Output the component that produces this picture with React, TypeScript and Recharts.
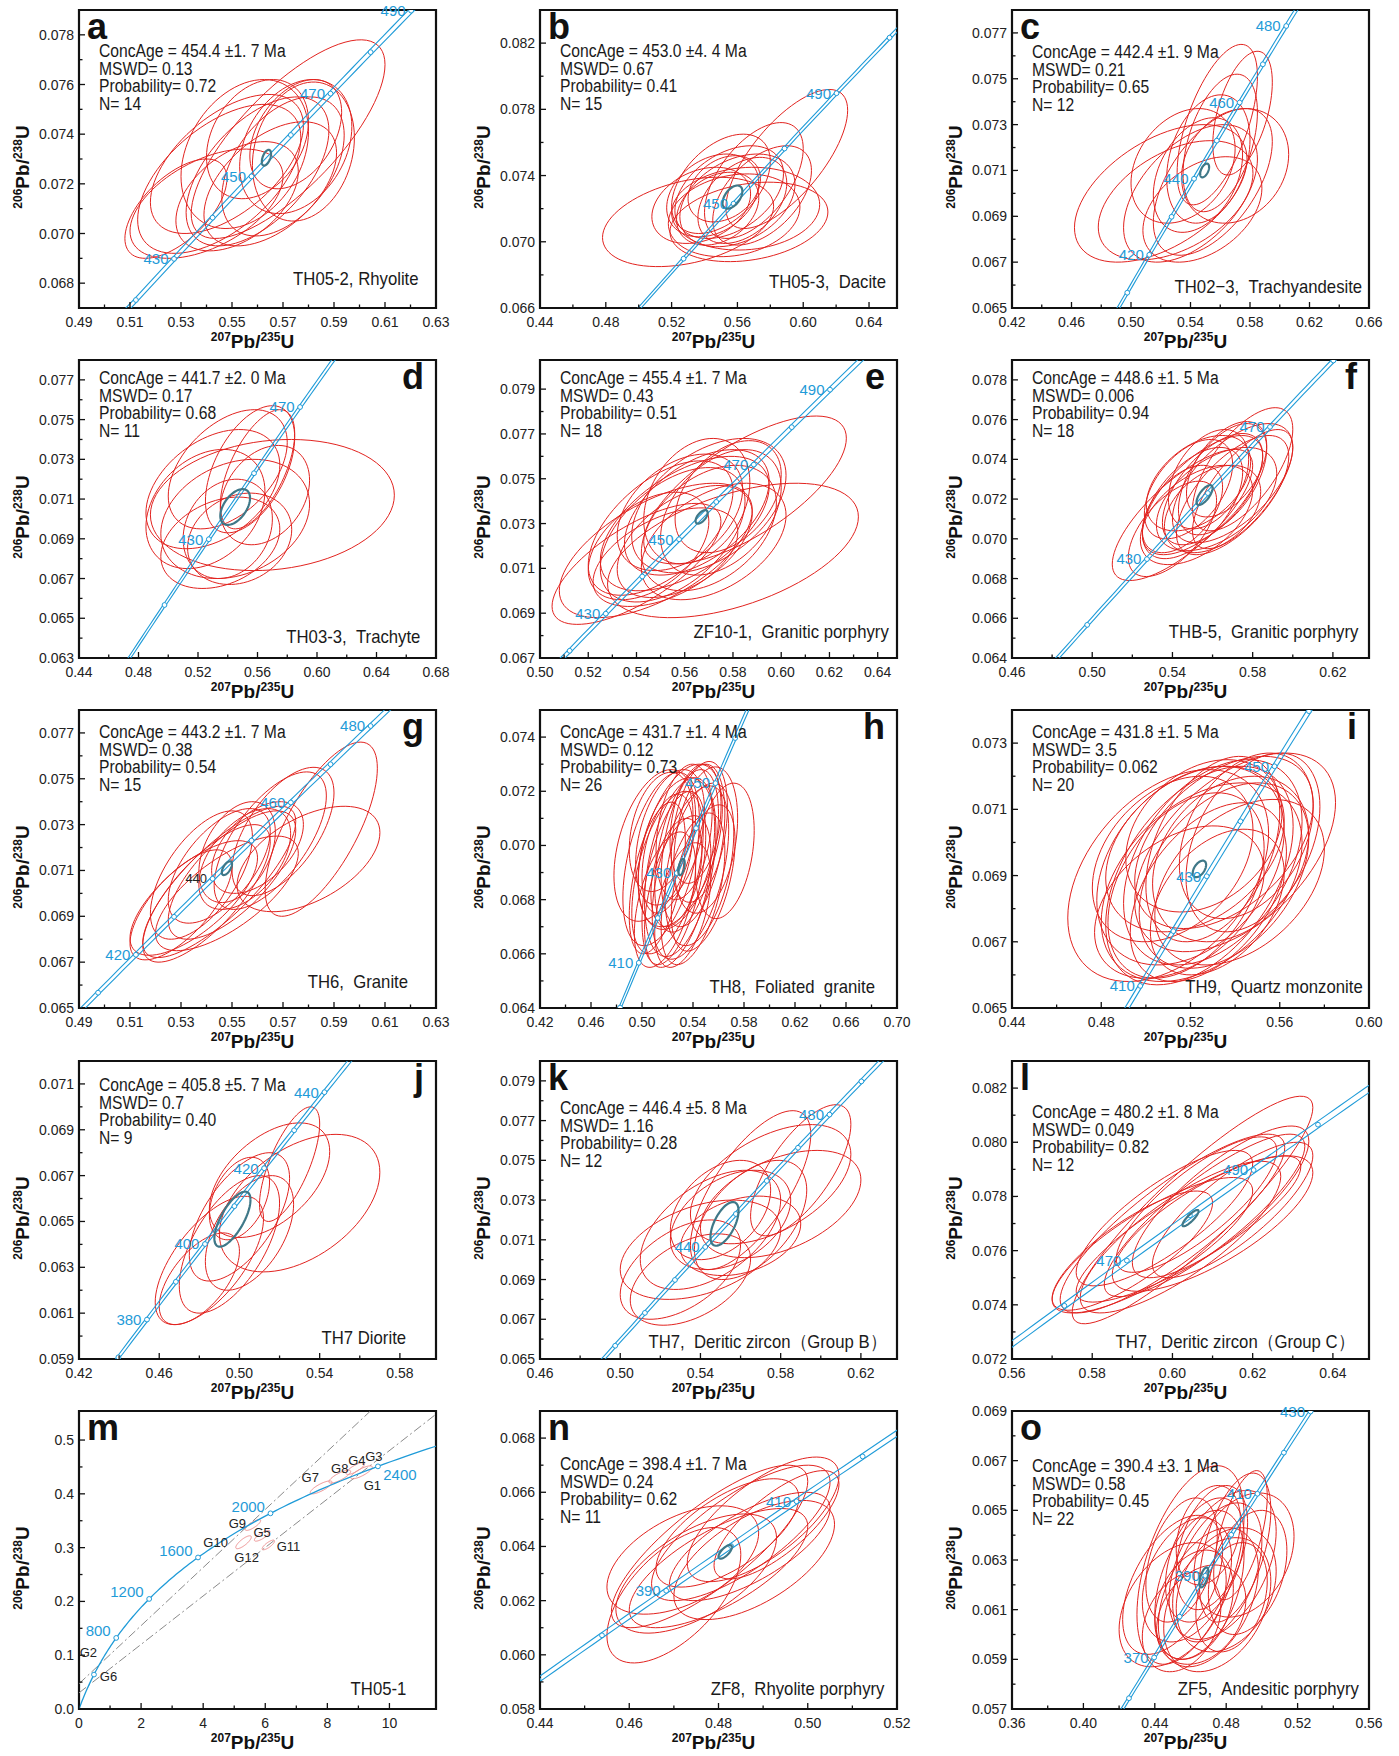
import React from "react";
import { ScatterChart, Scatter, XAxis, YAxis, ReferenceArea, LabelList } from "recharts";

/* ---- constants ---- */
type Ell = [number, number, number, number, number]; // cx, cy, half-width x, half-height y, rho

const L235 = 9.8485e-10;
const L238 = 1.55125e-10;
const RED = "#e2231f";
const PINK = "#ee9090";
const BLUE = "#1f9bd8";
const MEAN = "#3f7888";
const SANS = '"Liberation Sans", Arial, sans-serif';

const COL_X = [79, 540, 1012];
const ROW_Y = [10, 360, 710, 1061, 1411];
const FW = 357;
const FH = 298;

/* ---- panel a ---- */
const xTicksA = [0.49, 0.51, 0.53, 0.55, 0.57, 0.59, 0.61, 0.63];
const yTicksA = [0.068, 0.07, 0.072, 0.074, 0.076, 0.078];
const ellA: Ell[] = [
  [0.572, 0.0738, 0.038, 0.004, 0.75], [0.545, 0.0722, 0.032, 0.003, 0.55],
  [0.54, 0.0712, 0.03, 0.0022, 0.5], [0.528, 0.071, 0.02, 0.002, 0.6],
  [0.575, 0.0735, 0.022, 0.0027, 0.3], [0.578, 0.0733, 0.02, 0.0028, 0.2],
  [0.57, 0.0727, 0.024, 0.0028, 0.45], [0.56, 0.0725, 0.028, 0.003, 0.55],
  [0.555, 0.0732, 0.025, 0.003, 0.3], [0.565, 0.072, 0.026, 0.0025, 0.5],
  [0.552, 0.0715, 0.024, 0.0022, 0.45], [0.575, 0.074, 0.018, 0.0022, 0.4],
  [0.548, 0.0728, 0.03, 0.0028, 0.55], [0.56, 0.0738, 0.02, 0.0024, 0.3],
];
const meanA: Ell = [0.5635, 0.07305, 0.0018, 0.00032, 0.5];
const statsA = ["ConcAge = 454.4 ±1. 7 Ma", "MSWD= 0.13", "Probability= 0.72", "N= 14"];

/* ---- panel b ---- */
const xTicksB = [0.44, 0.48, 0.52, 0.56, 0.6, 0.64];
const yTicksB = [0.066, 0.07, 0.074, 0.078, 0.082];
const ellB: Ell[] = [
  [0.53, 0.0712, 0.052, 0.0027, 0.35], [0.59, 0.075, 0.037, 0.0042, 0.7],
  [0.567, 0.0712, 0.048, 0.0024, 0.25], [0.565, 0.072, 0.045, 0.0025, 0.1],
  [0.555, 0.073, 0.033, 0.0028, 0.4], [0.55, 0.0735, 0.03, 0.003, 0.45],
  [0.545, 0.0728, 0.028, 0.0025, 0.3], [0.56, 0.0725, 0.035, 0.0028, 0.35],
  [0.57, 0.0737, 0.03, 0.0035, 0.55], [0.548, 0.072, 0.025, 0.0022, 0.3],
  [0.538, 0.0722, 0.03, 0.0023, 0.3], [0.558, 0.0716, 0.04, 0.0025, 0.2],
  [0.575, 0.0728, 0.03, 0.003, 0.5], [0.552, 0.0732, 0.022, 0.002, 0.3],
  [0.563, 0.0725, 0.027, 0.0026, 0.4],
];
const meanB: Ell = [0.557, 0.0727, 0.006, 0.0007, 0.5];
const statsB = ["ConcAge = 453.0 ±4. 4 Ma", "MSWD= 0.67", "Probability= 0.41", "N= 15"];

/* ---- panel c ---- */
const xTicksC = [0.42, 0.46, 0.5, 0.54, 0.58, 0.62, 0.66];
const yTicksC = [0.065, 0.067, 0.069, 0.071, 0.073, 0.075, 0.077];
const ellC: Ell[] = [
  [0.52, 0.07, 0.058, 0.003, 0.5], [0.53, 0.0697, 0.052, 0.0026, 0.45],
  [0.54, 0.07, 0.045, 0.003, 0.5], [0.555, 0.0705, 0.04, 0.0032, 0.55],
  [0.57, 0.0712, 0.036, 0.0025, 0.2], [0.558, 0.073, 0.027, 0.0035, 0.6],
  [0.575, 0.0735, 0.02, 0.0027, 0.5], [0.56, 0.0722, 0.025, 0.003, 0.45],
  [0.552, 0.0715, 0.028, 0.0028, 0.3], [0.545, 0.0708, 0.03, 0.0025, 0.35],
  [0.548, 0.0693, 0.04, 0.0023, 0.4], [0.535, 0.0712, 0.035, 0.0025, 0.3],
];
const meanC: Ell = [0.5495, 0.071, 0.003, 0.0003, 0.5];
const statsC = ["ConcAge = 442.4 ±1. 9 Ma", "MSWD= 0.21", "Probability= 0.65", "N= 12"];

/* ---- panel d ---- */
const xTicksD = [0.44, 0.48, 0.52, 0.56, 0.6, 0.64, 0.68];
const yTicksD = [0.063, 0.065, 0.067, 0.069, 0.071, 0.073, 0.075, 0.077];
const ellD: Ell[] = [
  [0.57, 0.0707, 0.082, 0.0033, 0.15], [0.54, 0.0725, 0.04, 0.003, 0.45],
  [0.53, 0.0715, 0.045, 0.003, 0.4], [0.525, 0.0705, 0.04, 0.003, 0.3],
  [0.56, 0.0725, 0.025, 0.003, 0.6], [0.555, 0.0725, 0.03, 0.0032, 0.5],
  [0.545, 0.07, 0.05, 0.003, 0.25], [0.535, 0.0688, 0.04, 0.0023, 0.3],
  [0.548, 0.069, 0.035, 0.0023, 0.2], [0.54, 0.0695, 0.03, 0.0025, 0.2],
  [0.565, 0.0712, 0.03, 0.0025, 0.3],
];
const meanD: Ell = [0.545, 0.0706, 0.01, 0.0009, 0.5];
const statsD = ["ConcAge = 441.7 ±2. 0 Ma", "MSWD= 0.17", "Probability= 0.68", "N= 11"];

/* ---- panel e ---- */
const xTicksE = [0.5, 0.52, 0.54, 0.56, 0.58, 0.6, 0.62, 0.64];
const yTicksE = [0.067, 0.069, 0.071, 0.073, 0.075, 0.077, 0.079];
const ellE: Ell[] = [
  [0.585, 0.0745, 0.042, 0.0033, 0.7], [0.58, 0.0718, 0.052, 0.003, 0.5],
  [0.54, 0.0712, 0.035, 0.0027, 0.7], [0.548, 0.0718, 0.04, 0.003, 0.6],
  [0.56, 0.073, 0.035, 0.003, 0.55], [0.565, 0.0735, 0.03, 0.0028, 0.5],
  [0.57, 0.0738, 0.032, 0.003, 0.45], [0.555, 0.0725, 0.03, 0.003, 0.5],
  [0.575, 0.0735, 0.025, 0.0028, 0.4], [0.56, 0.0722, 0.028, 0.0025, 0.5],
  [0.55, 0.0728, 0.03, 0.003, 0.55], [0.57, 0.0728, 0.028, 0.0028, 0.4],
  [0.578, 0.0742, 0.022, 0.0025, 0.4], [0.545, 0.072, 0.025, 0.0024, 0.45],
  [0.565, 0.074, 0.022, 0.0028, 0.3], [0.552, 0.0715, 0.03, 0.0022, 0.5],
  [0.572, 0.0722, 0.03, 0.0026, 0.45], [0.558, 0.0735, 0.026, 0.0026, 0.4],
];
const meanE: Ell = [0.567, 0.0733, 0.0025, 0.0003, 0.6];
const statsE = ["ConcAge = 455.4 ±1. 7 Ma", "MSWD= 0.43", "Probability= 0.51", "N= 18"];

/* ---- panel f ---- */
const xTicksF = [0.46, 0.5, 0.54, 0.58, 0.62];
const yTicksF = [0.064, 0.066, 0.068, 0.07, 0.072, 0.074, 0.076, 0.078];
const ellF: Ell[] = [
  [0.545, 0.0712, 0.035, 0.0033, 0.75], [0.575, 0.0735, 0.025, 0.0031, 0.65],
  [0.57, 0.0728, 0.03, 0.003, 0.6], [0.555, 0.0722, 0.03, 0.003, 0.65],
  [0.56, 0.0725, 0.025, 0.0028, 0.6], [0.55, 0.0718, 0.025, 0.0028, 0.55],
  [0.565, 0.073, 0.022, 0.0028, 0.55], [0.552, 0.0712, 0.028, 0.0025, 0.5],
  [0.562, 0.072, 0.03, 0.0026, 0.5], [0.548, 0.0725, 0.022, 0.0025, 0.5],
  [0.57, 0.0722, 0.028, 0.003, 0.65], [0.558, 0.073, 0.02, 0.0025, 0.4],
  [0.545, 0.0715, 0.02, 0.0022, 0.5], [0.575, 0.0725, 0.025, 0.003, 0.7],
  [0.56, 0.0715, 0.024, 0.0022, 0.4], [0.553, 0.0728, 0.026, 0.0024, 0.45],
  [0.567, 0.0735, 0.02, 0.0024, 0.5], [0.54, 0.0705, 0.022, 0.0024, 0.6],
];
const meanF: Ell = [0.556, 0.0722, 0.004, 0.0005, 0.7];
const statsF = ["ConcAge = 448.6 ±1. 5 Ma", "MSWD= 0.006", "Probability= 0.94", "N= 18"];

/* ---- panel g ---- */
const xTicksG = [0.49, 0.51, 0.53, 0.55, 0.57, 0.59, 0.61, 0.63];
const yTicksG = [0.065, 0.067, 0.069, 0.071, 0.073, 0.075, 0.077];
const ellG: Ell[] = [
  [0.585, 0.0728, 0.022, 0.0038, 0.7], [0.58, 0.0715, 0.028, 0.0023, 0.5],
  [0.565, 0.0723, 0.022, 0.003, 0.65], [0.57, 0.0727, 0.02, 0.0028, 0.6],
  [0.545, 0.0705, 0.03, 0.0033, 0.8], [0.54, 0.07, 0.025, 0.003, 0.75],
  [0.535, 0.0698, 0.025, 0.0025, 0.7], [0.545, 0.0712, 0.02, 0.0025, 0.6],
  [0.55, 0.0708, 0.025, 0.0028, 0.7], [0.53, 0.0695, 0.02, 0.0024, 0.7],
  [0.555, 0.0715, 0.018, 0.0022, 0.5], [0.548, 0.07, 0.028, 0.0025, 0.7],
  [0.56, 0.072, 0.018, 0.002, 0.5], [0.538, 0.0708, 0.02, 0.0028, 0.6],
  [0.552, 0.0718, 0.015, 0.0022, 0.4],
];
const meanG: Ell = [0.548, 0.0711, 0.002, 0.0003, 0.6];
const statsG = ["ConcAge = 443.2 ±1. 7 Ma", "MSWD= 0.38", "Probability= 0.54", "N= 15"];

/* ---- panel h ---- */
const xTicksH = [0.42, 0.46, 0.5, 0.54, 0.58, 0.62, 0.66, 0.7];
const yTicksH = [0.064, 0.066, 0.068, 0.07, 0.072, 0.074];
const ellH: Ell[] = [
  [0.51, 0.07, 0.032, 0.0028, 0.4], [0.515, 0.0695, 0.03, 0.0032, 0.45],
  [0.52, 0.069, 0.028, 0.003, 0.5], [0.525, 0.0688, 0.025, 0.0032, 0.5],
  [0.53, 0.0692, 0.028, 0.0033, 0.4], [0.535, 0.0698, 0.025, 0.003, 0.45],
  [0.54, 0.07, 0.025, 0.003, 0.4], [0.55, 0.0702, 0.025, 0.0027, 0.3],
  [0.565, 0.0698, 0.023, 0.0025, 0.3], [0.545, 0.0705, 0.022, 0.0026, 0.35],
  [0.528, 0.0683, 0.026, 0.0028, 0.5], [0.532, 0.0678, 0.022, 0.0023, 0.45],
  [0.518, 0.068, 0.024, 0.0025, 0.5], [0.522, 0.0703, 0.027, 0.0025, 0.4],
  [0.538, 0.069, 0.03, 0.0032, 0.5], [0.545, 0.0693, 0.027, 0.003, 0.4],
  [0.512, 0.0688, 0.022, 0.0028, 0.5], [0.527, 0.0697, 0.03, 0.0028, 0.35],
  [0.533, 0.0705, 0.022, 0.0025, 0.3], [0.54, 0.0684, 0.025, 0.0028, 0.5],
  [0.52, 0.0697, 0.02, 0.0022, 0.4], [0.548, 0.0688, 0.025, 0.0027, 0.5],
  [0.53, 0.07, 0.033, 0.003, 0.45], [0.515, 0.0705, 0.025, 0.0022, 0.3],
  [0.542, 0.0708, 0.02, 0.0022, 0.3], [0.527, 0.069, 0.02, 0.002, 0.4],
];
const meanH: Ell = [0.531, 0.0692, 0.0025, 0.0003, 0.5];
const statsH = ["ConcAge = 431.7 ±1. 4 Ma", "MSWD= 0.12", "Probability= 0.73", "N= 26"];

/* ---- panel i ---- */
const xTicksI = [0.44, 0.48, 0.52, 0.56, 0.6];
const yTicksI = [0.065, 0.067, 0.069, 0.071, 0.073];
const ellI: Ell[] = [
  [0.51, 0.069, 0.045, 0.0032, 0.4], [0.525, 0.0688, 0.045, 0.003, 0.4],
  [0.535, 0.07, 0.04, 0.0026, 0.45], [0.54, 0.0697, 0.045, 0.003, 0.5],
  [0.52, 0.0693, 0.042, 0.003, 0.35], [0.53, 0.0694, 0.04, 0.0031, 0.4],
  [0.528, 0.0685, 0.035, 0.0027, 0.45], [0.515, 0.0682, 0.038, 0.0023, 0.4],
  [0.545, 0.0702, 0.03, 0.0025, 0.35], [0.535, 0.069, 0.038, 0.0028, 0.4],
  [0.522, 0.0698, 0.04, 0.0025, 0.35], [0.538, 0.0695, 0.035, 0.0025, 0.3],
  [0.518, 0.0687, 0.035, 0.0028, 0.4], [0.542, 0.0688, 0.038, 0.0025, 0.4],
  [0.526, 0.0702, 0.035, 0.0023, 0.3], [0.532, 0.0682, 0.03, 0.0022, 0.4],
  [0.548, 0.07, 0.03, 0.0027, 0.4], [0.512, 0.0695, 0.036, 0.0025, 0.35],
  [0.53, 0.0698, 0.03, 0.0028, 0.4], [0.524, 0.069, 0.042, 0.0033, 0.45],
];
const meanI: Ell = [0.524, 0.0692, 0.003, 0.00025, 0.5];
const statsI = ["ConcAge = 431.8 ±1. 5 Ma", "MSWD= 3.5", "Probability= 0.062", "N= 20"];

/* ---- panel j ---- */
const xTicksJ = [0.42, 0.46, 0.5, 0.54, 0.58];
const yTicksJ = [0.059, 0.061, 0.063, 0.065, 0.067, 0.069, 0.071];
const ellJ: Ell[] = [
  [0.53, 0.0658, 0.04, 0.003, 0.45], [0.515, 0.0668, 0.03, 0.0025, 0.5],
  [0.525, 0.0675, 0.015, 0.0025, 0.7], [0.5, 0.0652, 0.025, 0.0028, 0.6],
  [0.495, 0.064, 0.025, 0.003, 0.6], [0.485, 0.0633, 0.027, 0.0028, 0.65],
  [0.48, 0.0625, 0.02, 0.002, 0.6], [0.5, 0.066, 0.015, 0.0018, 0.4],
  [0.505, 0.0645, 0.022, 0.0025, 0.5],
];
const meanJ: Ell = [0.4965, 0.0651, 0.009, 0.0012, 0.7];
const statsJ = ["ConcAge = 405.8 ±5. 7 Ma", "MSWD= 0.7", "Probability= 0.40", "N= 9"];

/* ---- panel k ---- */
const xTicksK = [0.46, 0.5, 0.54, 0.58, 0.62];
const yTicksK = [0.065, 0.067, 0.069, 0.071, 0.073, 0.075, 0.077, 0.079];
const ellK: Ell[] = [
  [0.575, 0.0738, 0.04, 0.003, 0.5], [0.59, 0.0745, 0.025, 0.0033, 0.7],
  [0.58, 0.0728, 0.04, 0.0027, 0.45], [0.565, 0.0735, 0.03, 0.004, 0.7],
  [0.545, 0.0715, 0.035, 0.003, 0.5], [0.54, 0.0705, 0.04, 0.0025, 0.4],
  [0.53, 0.0695, 0.03, 0.0025, 0.5], [0.535, 0.069, 0.03, 0.0023, 0.45],
  [0.555, 0.072, 0.03, 0.0025, 0.4], [0.56, 0.0712, 0.03, 0.002, 0.3],
  [0.55, 0.0725, 0.025, 0.0025, 0.4], [0.565, 0.072, 0.028, 0.003, 0.5],
];
const meanK: Ell = [0.552, 0.0718, 0.007, 0.0011, 0.6];
const statsK = ["ConcAge = 446.4 ±5. 8 Ma", "MSWD= 1.16", "Probability= 0.28", "N= 12"];

/* ---- panel l ---- */
const xTicksL = [0.56, 0.58, 0.6, 0.62, 0.64];
const yTicksL = [0.072, 0.074, 0.076, 0.078, 0.08, 0.082];
const ellL: Ell[] = [
  [0.605, 0.0775, 0.03, 0.0042, 0.9], [0.6, 0.077, 0.028, 0.0033, 0.85],
  [0.608, 0.0773, 0.025, 0.003, 0.85], [0.612, 0.0778, 0.022, 0.0028, 0.8],
  [0.602, 0.0765, 0.025, 0.0028, 0.8], [0.595, 0.0762, 0.025, 0.0025, 0.8],
  [0.61, 0.077, 0.025, 0.0025, 0.75], [0.606, 0.0777, 0.02, 0.0025, 0.8],
  [0.598, 0.0772, 0.022, 0.0025, 0.8], [0.615, 0.0775, 0.02, 0.0025, 0.8],
  [0.59, 0.076, 0.02, 0.0022, 0.8], [0.604, 0.0768, 0.028, 0.0027, 0.85],
];
const meanL: Ell = [0.6045, 0.0772, 0.002, 0.0003, 0.85];
const statsL = ["ConcAge = 480.2 ±1. 8 Ma", "MSWD= 0.049", "Probability= 0.82", "N= 12"];

/* ---- panel m ---- */
const xTicksM = [0, 2, 4, 6, 8, 10];
const yTicksM = [0, 0.1, 0.2, 0.3, 0.4, 0.5];
const ellM: Ell[] = [
  [9.1, 0.44, 0.35, 0.012, 0.8], [8.9, 0.447, 0.3, 0.011, 0.8],
  [8.4, 0.432, 0.35, 0.012, 0.8], [7.8, 0.412, 0.35, 0.012, 0.8],
  [5.6, 0.342, 0.25, 0.01, 0.8], [5.9, 0.322, 0.25, 0.01, 0.8],
  [5.3, 0.31, 0.25, 0.012, 0.8], [6.1, 0.305, 0.2, 0.009, 0.8],
];
const gNames = ["G1", "G3", "G4", "G8", "G7", "G9", "G5", "G10", "G11", "G12", "G2", "G6"];
const gLabelX = [9.45, 9.5, 8.95, 8.4, 7.45, 5.1, 5.9, 4.4, 6.75, 5.4, 0.3, 0.95];
const gLabelY = [0.415, 0.47, 0.462, 0.448, 0.43, 0.345, 0.328, 0.31, 0.302, 0.282, 0.105, 0.06];
const discordiaX = [[0, 9.37], [0, 11.5]];
const discordiaY = [[0.047, 0.553], [0.03, 0.548]];

/* ---- panel n ---- */
const xTicksN = [0.44, 0.46, 0.48, 0.5, 0.52];
const yTicksN = [0.058, 0.06, 0.062, 0.064, 0.066, 0.068];
const ellN: Ell[] = [
  [0.47, 0.0622, 0.015, 0.0025, 0.6], [0.478, 0.064, 0.022, 0.003, 0.8],
  [0.485, 0.0645, 0.02, 0.0025, 0.75], [0.49, 0.065, 0.017, 0.0023, 0.7],
  [0.493, 0.0648, 0.014, 0.002, 0.75], [0.48, 0.0632, 0.02, 0.0022, 0.7],
  [0.475, 0.063, 0.018, 0.0022, 0.6], [0.487, 0.064, 0.018, 0.002, 0.7],
  [0.482, 0.0645, 0.016, 0.002, 0.65], [0.472, 0.0635, 0.017, 0.002, 0.5],
  [0.488, 0.0635, 0.018, 0.0022, 0.6],
];
const meanN: Ell = [0.4815, 0.0638, 0.0015, 0.00025, 0.7];
const statsN = ["ConcAge = 398.4 ±1. 7 Ma", "MSWD= 0.24", "Probability= 0.62", "N= 11"];

/* ---- panel o ---- */
const xTicksO = [0.36, 0.4, 0.44, 0.48, 0.52, 0.56];
const yTicksO = [0.057, 0.059, 0.061, 0.063, 0.065, 0.067, 0.069];
const ellO: Ell[] = [
  [0.46, 0.0628, 0.03, 0.004, 0.5], [0.49, 0.0632, 0.028, 0.0025, 0.3],
  [0.485, 0.0635, 0.02, 0.003, 0.5], [0.488, 0.064, 0.015, 0.0026, 0.6],
  [0.45, 0.0612, 0.03, 0.0025, 0.4], [0.455, 0.0605, 0.022, 0.002, 0.3],
  [0.47, 0.0615, 0.028, 0.0028, 0.4], [0.465, 0.062, 0.025, 0.003, 0.4],
  [0.475, 0.0625, 0.025, 0.0028, 0.45], [0.468, 0.063, 0.022, 0.0025, 0.4],
  [0.48, 0.0618, 0.028, 0.0025, 0.3], [0.458, 0.0622, 0.025, 0.0025, 0.35],
  [0.472, 0.0635, 0.02, 0.0025, 0.4], [0.462, 0.0612, 0.022, 0.0022, 0.3],
  [0.478, 0.0628, 0.03, 0.003, 0.45], [0.47, 0.064, 0.018, 0.002, 0.3],
  [0.455, 0.063, 0.02, 0.0025, 0.4], [0.483, 0.0615, 0.02, 0.0022, 0.3],
  [0.466, 0.0608, 0.025, 0.002, 0.3], [0.475, 0.0612, 0.03, 0.0027, 0.35],
  [0.45, 0.062, 0.028, 0.0028, 0.5], [0.492, 0.0625, 0.022, 0.0025, 0.35],
];
const meanO: Ell = [0.4675, 0.0623, 0.0025, 0.0004, 0.6];
const statsO = ["ConcAge = 390.4 ±3. 1 Ma", "MSWD= 0.58", "Probability= 0.45", "N= 22"];

/* ---- concordia age ticks (Ma) ---- */
const marksA = [410, 420, 430, 440, 450, 460, 470, 480, 490, 500];
const marksB = [410, 430, 450, 470, 490, 510];
const marksC = [400, 410, 420, 430, 440, 450, 460, 470, 480, 490];
const marksD = [390, 410, 430, 450, 470, 490];
const marksE = [410, 420, 430, 440, 450, 460, 470, 480, 490, 500];
const marksF = [390, 410, 430, 450, 470, 490];
const marksG = [400, 410, 420, 430, 440, 450, 460, 470, 480, 490];
const marksH = [390, 400, 410, 420, 430, 440, 450, 460, 470];
const marksI = [390, 400, 410, 420, 430, 440, 450, 460, 470];
const marksJ = [360, 370, 380, 390, 400, 410, 420, 430, 440, 450, 460];
const marksK = [400, 410, 420, 430, 440, 450, 460, 470, 480, 490, 500];
const marksL = [450, 460, 470, 480, 490, 500, 510, 520];
const marksM = [400, 800, 1200, 1600, 2000, 2400];
const marksN = [360, 370, 380, 390, 400, 410, 420, 430, 440];
const marksO = [350, 360, 370, 380, 390, 400, 410, 420, 430, 440];

interface PanelDef {
  letter: string; col: number; row: number;
  xDomain: [number, number]; yDomain: [number, number];
  xTicks: number[]; yTicks: number[]; xDigits: number; yDigits: number;
  ellipses: Ell[]; mean?: Ell; ellColor?: string;
  marks: number[]; labels: number[]; darkLabels?: number[]; rightLabels?: number[];
  ages: [number, number, number];
  stats?: string[]; sample: string;
  letterRight?: boolean; statsTop?: number; sampleOff: [number, number];
}

const SEP = ",\u00a0\u00a0";

const panels: PanelDef[] = [
  { letter: "a", col: 0, row: 0, xDomain: [0.49, 0.63], yDomain: [0.067, 0.079], xTicks: xTicksA, yTicks: yTicksA, xDigits: 2, yDigits: 3,
    ellipses: ellA, mean: meanA, marks: marksA, labels: [430, 450, 470, 490], ages: [380, 540, 2],
    stats: statsA, sample: "TH05-2, Rhyolite", statsTop: 43, sampleOff: [17, 29] },
  { letter: "b", col: 1, row: 0, xDomain: [0.44, 0.657], yDomain: [0.066, 0.084], xTicks: xTicksB, yTicks: yTicksB, xDigits: 2, yDigits: 3,
    ellipses: ellB, mean: meanB, marks: marksB, labels: [450, 490], ages: [380, 540, 2],
    stats: statsB, sample: "TH05-3" + SEP + "Dacite", statsTop: 43, sampleOff: [11, 26] },
  { letter: "c", col: 2, row: 0, xDomain: [0.42, 0.66], yDomain: [0.065, 0.078], xTicks: xTicksC, yTicks: yTicksC, xDigits: 2, yDigits: 3,
    ellipses: ellC, mean: meanC, marks: marksC, labels: [420, 440, 460, 480], ages: [380, 540, 2],
    stats: statsC, sample: "TH02−3" + SEP + "Trachyandesite", statsTop: 44, sampleOff: [7, 21] },
  { letter: "d", col: 0, row: 1, xDomain: [0.44, 0.68], yDomain: [0.063, 0.078], xTicks: xTicksD, yTicks: yTicksD, xDigits: 2, yDigits: 3,
    ellipses: ellD, mean: meanD, marks: marksD, labels: [430, 470], ages: [360, 540, 2],
    stats: statsD, sample: "TH03-3" + SEP + "Trachyte", letterRight: true, statsTop: 20, sampleOff: [16, 21] },
  { letter: "e", col: 1, row: 1, xDomain: [0.5, 0.648], yDomain: [0.067, 0.0803], xTicks: xTicksE, yTicks: yTicksE, xDigits: 2, yDigits: 3,
    ellipses: ellE, mean: meanE, marks: marksE, labels: [430, 450, 470, 490], ages: [380, 540, 2],
    stats: statsE, sample: "ZF10-1" + SEP + "Granitic porphyry", letterRight: true, statsTop: 20, sampleOff: [8, 26] },
  { letter: "f", col: 2, row: 1, xDomain: [0.46, 0.638], yDomain: [0.064, 0.079], xTicks: xTicksF, yTicks: yTicksF, xDigits: 2, yDigits: 3,
    ellipses: ellF, mean: meanF, marks: marksF, labels: [430, 470], ages: [360, 540, 2],
    stats: statsF, sample: "THB-5" + SEP + "Granitic porphyry", letterRight: true, statsTop: 20, sampleOff: [11, 26] },
  { letter: "g", col: 0, row: 2, xDomain: [0.49, 0.63], yDomain: [0.065, 0.078], xTicks: xTicksG, yTicks: yTicksG, xDigits: 2, yDigits: 3,
    ellipses: ellG, mean: meanG, marks: marksG, labels: [420, 460, 480], darkLabels: [440], ages: [370, 540, 2],
    stats: statsG, sample: "TH6" + SEP + "Granite", letterRight: true, statsTop: 24, sampleOff: [28, 26] },
  { letter: "h", col: 1, row: 2, xDomain: [0.42, 0.7], yDomain: [0.064, 0.075], xTicks: xTicksH, yTicks: yTicksH, xDigits: 2, yDigits: 3,
    ellipses: ellH, mean: meanH, marks: marksH, labels: [410, 430, 450], ages: [360, 520, 2],
    stats: statsH, sample: "TH8" + SEP + "Foliated\u00a0\u00a0granite", letterRight: true, statsTop: 24, sampleOff: [22, 21] },
  { letter: "i", col: 2, row: 2, xDomain: [0.44, 0.6], yDomain: [0.065, 0.074], xTicks: xTicksI, yTicks: yTicksI, xDigits: 2, yDigits: 3,
    ellipses: ellI, mean: meanI, marks: marksI, labels: [410, 430, 450], ages: [360, 520, 2],
    stats: statsI, sample: "TH9" + SEP + "Quartz monzonite", letterRight: true, statsTop: 24, sampleOff: [6, 21] },
  { letter: "j", col: 0, row: 3, xDomain: [0.42, 0.598], yDomain: [0.059, 0.072], xTicks: xTicksJ, yTicks: yTicksJ, xDigits: 2, yDigits: 3,
    ellipses: ellJ, mean: meanJ, marks: marksJ, labels: [380, 400, 420, 440], ages: [330, 500, 2],
    stats: statsJ, sample: "TH7 Diorite", letterRight: true, statsTop: 26, sampleOff: [30, 21] },
  { letter: "k", col: 1, row: 3, xDomain: [0.46, 0.638], yDomain: [0.065, 0.08], xTicks: xTicksK, yTicks: yTicksK, xDigits: 2, yDigits: 3,
    ellipses: ellK, mean: meanK, marks: marksK, labels: [440, 480], ages: [360, 540, 2],
    stats: statsK, sample: "TH7" + SEP + "Deritic zircon（Group B）", statsTop: 49, sampleOff: [11, 17] },
  { letter: "l", col: 2, row: 3, xDomain: [0.56, 0.649], yDomain: [0.072, 0.083], xTicks: xTicksL, yTicks: yTicksL, xDigits: 2, yDigits: 3,
    ellipses: ellL, mean: meanL, marks: marksL, labels: [470, 490], ages: [420, 560, 2],
    stats: statsL, sample: "TH7" + SEP + "Deritic zircon（Group C）", statsTop: 53, sampleOff: [15, 17] },
  { letter: "m", col: 0, row: 4, xDomain: [0, 11.5], yDomain: [0, 0.554], xTicks: xTicksM, yTicks: yTicksM, xDigits: 0, yDigits: 1,
    ellipses: ellM, ellColor: PINK, marks: marksM, labels: [800, 1200, 1600, 2000], rightLabels: [2400], ages: [0, 2700, 20],
    sample: "TH05-1", sampleOff: [30, 20] },
  { letter: "n", col: 1, row: 4, xDomain: [0.44, 0.52], yDomain: [0.058, 0.069], xTicks: xTicksN, yTicks: yTicksN, xDigits: 2, yDigits: 3,
    ellipses: ellN, mean: meanN, marks: marksN, labels: [390, 410], ages: [330, 480, 2],
    stats: statsN, sample: "ZF8" + SEP + "Rhyolite porphyry", statsTop: 55, sampleOff: [13, 20] },
  { letter: "o", col: 2, row: 4, xDomain: [0.36, 0.56], yDomain: [0.057, 0.069], xTicks: xTicksO, yTicks: yTicksO, xDigits: 2, yDigits: 3,
    ellipses: ellO, mean: meanO, marks: marksO, labels: [370, 390, 410, 430], ages: [330, 480, 2],
    stats: statsO, sample: "ZF5" + SEP + "Andesitic porphyry", statsTop: 57, sampleOff: [10, 20] },
];

/* ---- geometry helpers ---- */
const ratio = (age: number) => ({
  x: Math.exp(L235 * age * 1e6) - 1,
  y: Math.exp(L238 * age * 1e6) - 1,
  age,
});

function concordia([a0, a1, step]: [number, number, number], shift: number) {
  const pts: { x: number; y: number }[] = [];
  for (let t = a0; t <= a1 + 1e-9; t += step) {
    const p = ratio(t);
    pts.push({ x: p.x * (1 + shift), y: p.y });
  }
  return pts;
}

function ellipse([cx, cy, rx, ry, rho]: Ell) {
  const s = Math.sqrt(1 - rho * rho);
  const pts: { x: number; y: number }[] = [];
  for (let i = 0; i <= 80; i++) {
    const a = (i / 80) * 2 * Math.PI;
    pts.push({ x: cx + rx * Math.cos(a), y: cy + ry * (rho * Math.cos(a) + s * Math.sin(a)) });
  }
  return pts;
}

// major ticks plus the half-way minor ticks between them
function withMinor(ticks: number[]) {
  const out: number[] = [];
  ticks.forEach((t, i) => {
    out.push(t);
    if (i < ticks.length - 1) out.push(+((t + ticks[i + 1]) / 2).toFixed(6));
  });
  return out;
}

const noShape = () => <g />;
const markShape = (props: any) => (
  <circle cx={props.cx} cy={props.cy} r={2.4} fill="#fff" stroke={BLUE} strokeWidth={1} />
);

const TICK_GAP = 6; // tickSize 4 + tickMargin 2

function makeTick(axis: "x" | "y", majors: number[], digits: number) {
  return (props: any) => {
    const { x, y, payload } = props;
    const v = payload.value as number;
    const major = majors.some((m) => Math.abs(m - v) < 1e-9);
    const len = major ? 6 : 3.5;
    if (axis === "x") {
      const ay = y - TICK_GAP;
      return (
        <g>
          <line x1={x} x2={x} y1={ay} y2={ay - len} stroke="#111" strokeWidth={1.3} />
          {major && (
            <text x={x} y={ay + 19} textAnchor="middle" fontSize={14} fontFamily={SANS} fill="#222">
              {v.toFixed(digits)}
            </text>
          )}
        </g>
      );
    }
    const ax = x + TICK_GAP;
    return (
      <g>
        <line x1={ax} x2={ax + len} y1={y} y2={y} stroke="#111" strokeWidth={1.3} />
        {major && (
          <text x={ax - 5} y={y + 5} textAnchor="end" fontSize={14} fontFamily={SANS} fill="#222">
            {v.toFixed(digits)}
          </text>
        )}
      </g>
    );
  };
}

function AxisTitle({ a, b }: { a: string; b: string }) {
  const sup = { fontSize: 12, verticalAlign: "super" as const, lineHeight: 0 };
  return (
    <span style={{ fontFamily: SANS, fontWeight: 700, fontSize: 19, whiteSpace: "nowrap", color: "#111" }}>
      <span style={sup}>{a}</span>Pb/<span style={sup}>{b}</span>U
    </span>
  );
}

const ML = 79; // frame offset inside each chart box
const MT = 10;

function Panel({ p }: { p: PanelDef }) {
  const left = COL_X[p.col] - ML;
  const top = ROW_Y[p.row] - MT;
  const isM = p.letter === "m";
  const band = isM ? [0] : [-0.002, 0.002];
  return (
    <div style={{ position: "absolute", left, top, width: 460, height: 350 }}>
      <ScatterChart width={460} height={350} margin={{ top: MT, right: 24, left: ML - 60, bottom: 12 }}>
        <XAxis type="number" dataKey="x" domain={p.xDomain} ticks={withMinor(p.xTicks)} allowDataOverflow
          tick={makeTick("x", p.xTicks, p.xDigits)} tickSize={4} tickMargin={2} tickLine={false}
          axisLine={{ stroke: "#111", strokeWidth: 2 }} interval={0} />
        <YAxis type="number" dataKey="y" domain={p.yDomain} ticks={withMinor(p.yTicks)} allowDataOverflow width={60}
          tick={makeTick("y", p.yTicks, p.yDigits)} tickSize={4} tickMargin={2} tickLine={false}
          axisLine={{ stroke: "#111", strokeWidth: 2 }} interval={0} />
        <ReferenceArea x1={p.xDomain[0]} x2={p.xDomain[1]} y1={p.yDomain[0]} y2={p.yDomain[1]}
          fill="none" stroke="#111" strokeWidth={2.2} />
        {isM &&
          discordiaX.map((dx, i) => (
            <Scatter key={"dis" + i} data={[{ x: dx[0], y: discordiaY[i][0] }, { x: dx[1], y: discordiaY[i][1] }]}
              fill="#8a8a8a" line={{ stroke: "#8a8a8a", strokeWidth: 1, strokeDasharray: "9 3 2 3" }}
              shape={noShape} isAnimationActive={false} />
          ))}
        {p.ellipses.map((e, i) => (
          <Scatter key={"e" + i} data={ellipse(e)} fill={p.ellColor ?? RED}
            line={{ stroke: p.ellColor ?? RED, strokeWidth: 1 }} shape={noShape} isAnimationActive={false} />
        ))}
        {band.map((s, i) => (
          <Scatter key={"c" + i} data={concordia(p.ages, s)} fill={BLUE}
            line={{ stroke: BLUE, strokeWidth: isM ? 1.3 : 1.1 }} shape={noShape} isAnimationActive={false} />
        ))}
        <Scatter data={p.marks.map(ratio)} fill={BLUE} shape={markShape} isAnimationActive={false} />
        <Scatter data={p.labels.map(ratio)} fill={BLUE} shape={noShape} isAnimationActive={false}>
          <LabelList dataKey="age" position="left" offset={1} fill={BLUE} fontSize={15} fontFamily={SANS}
            dy={isM ? -7 : 0} />
        </Scatter>
        {p.darkLabels && (
          <Scatter data={p.darkLabels.map(ratio)} fill="#222" shape={noShape} isAnimationActive={false}>
            <LabelList dataKey="age" position="left" offset={1} fill="#222" fontSize={13} fontFamily={SANS} />
          </Scatter>
        )}
        {p.rightLabels && (
          <Scatter data={p.rightLabels.map(ratio)} fill={BLUE} shape={noShape} isAnimationActive={false}>
            <LabelList dataKey="age" position="bottom" offset={-2} fill={BLUE} fontSize={15} fontFamily={SANS} dx={22} />
          </Scatter>
        )}
        {isM && (
          <Scatter data={gNames.map((n, i) => ({ x: gLabelX[i], y: gLabelY[i], name: n }))} fill="#222"
            shape={noShape} isAnimationActive={false}>
            <LabelList dataKey="name" position="center" fill="#222" fontSize={13} fontFamily={SANS} />
          </Scatter>
        )}
        {p.mean && (
          <Scatter data={ellipse(p.mean)} fill={MEAN} line={{ stroke: MEAN, strokeWidth: 2.2 }}
            shape={noShape} isAnimationActive={false} />
        )}
      </ScatterChart>

      {/* panel letter */}
      <div style={{
        position: "absolute", top: MT - 3,
        left: p.letterRight ? undefined : ML + 8, right: p.letterRight ? 460 - ML - FW + 12 : undefined,
        fontFamily: SANS, fontWeight: 700, fontSize: 36, lineHeight: "40px", color: "#111",
      }}>{p.letter}</div>

      {/* statistics */}
      {p.stats && (
        <div style={{ position: "absolute", left: ML + 20, top: MT + (p.statsTop ?? 40) - 10,
          fontFamily: SANS, fontSize: 18, lineHeight: "17.7px", color: "#1a1a1a", whiteSpace: "nowrap",
          transform: "scaleX(0.87)", transformOrigin: "left top" }}>
          {p.stats.map((s) => <div key={s}>{s}</div>)}
        </div>
      )}

      {/* sample name */}
      <div style={{ position: "absolute", right: 460 - ML - FW + p.sampleOff[0], top: MT + FH - p.sampleOff[1] - 11,
        fontFamily: SANS, fontSize: 19, lineHeight: "22px", color: "#1a1a1a", whiteSpace: "nowrap",
        transform: "scaleX(0.88)", transformOrigin: "right center" }}>
        {p.sample}
      </div>

      {/* axis titles */}
      <div style={{ position: "absolute", left: ML + FW / 2 - 5, top: MT + FH + 34,
        transform: "translate(-50%, -50%)" }}>
        <AxisTitle a="207" b="235" />
      </div>
      <div style={{ position: "absolute", left: ML - 56, top: MT + FH / 2 + 8,
        transform: "translate(-50%, -50%) rotate(-90deg)" }}>
        <AxisTitle a="206" b="238" />
      </div>
    </div>
  );
}

export default function App() {
  return (
    <div style={{ position: "absolute", left: 0, top: 0, width: 1399, height: 1756, background: "#fff", overflow: "hidden" }}>
      {panels.map((p) => <Panel key={p.letter} p={p} />)}
    </div>
  );
}
